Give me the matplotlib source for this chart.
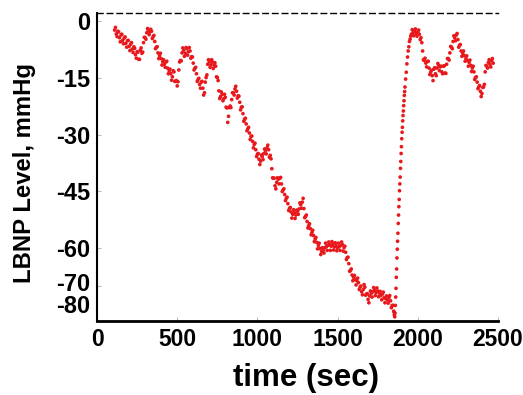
import matplotlib
matplotlib.use("Agg")
import matplotlib.pyplot as plt
import matplotlib.transforms as mtrans
from matplotlib.transforms import blended_transform_factory

plt.rcParams['font.family'] = ['Liberation Sans', 'DejaVu Sans']

# ---- data ----
# main samples
time_sec = [
    110, 120, 130, 140, 150, 160, 170, 180, 190, 200,
    210, 220, 230, 240, 250, 260, 270, 280, 290, 300,
    310, 320, 330, 340, 350, 360, 370, 380, 390, 400,
    410, 420, 430, 440, 450, 460, 470, 480, 490, 500,
    510, 520, 530, 540, 550, 560, 570, 580, 590, 600,
    610, 620, 630, 640, 650, 660, 670, 680, 690, 700,
    710, 720, 730, 740, 750, 760, 770, 780, 790, 800,
    810, 820, 830, 840, 850, 860, 870, 880, 890, 900,
    910, 920, 930, 940, 950, 960, 970, 980, 990, 1000,
    1010, 1020, 1030, 1040, 1050, 1060, 1070, 1080, 1090, 1100,
    1110, 1120, 1130, 1140, 1150, 1160, 1170, 1180, 1190, 1200,
    1210, 1220, 1230, 1240, 1250, 1260, 1270, 1280, 1290, 1300,
    1310, 1320, 1330, 1340, 1350, 1360, 1370, 1380, 1390, 1400,
    1410, 1420, 1430, 1440, 1450, 1460, 1470, 1480, 1490, 1500,
    1510, 1520, 1530, 1540, 1550, 1560, 1570, 1580, 1590, 1600,
    1610, 1620, 1630, 1640, 1650, 1660, 1670, 1680, 1690, 1700,
    1710, 1720, 1730, 1740, 1750, 1760, 1770, 1780, 1790, 1800,
    1810, 1820, 1830, 1840, 1850,
    1852, 1854, 1856, 1858, 1860, 1862, 1864, 1866, 1868, 1870,
    1872, 1874, 1876, 1878, 1880, 1882, 1884, 1886, 1888, 1890,
    1892, 1894, 1896, 1898, 1900, 1902, 1904, 1906, 1908, 1910,
    1912, 1914, 1916, 1918, 1920, 1924, 1928, 1932, 1936, 1940,
    1944, 1948, 1952, 1956, 1960,
    1970, 1980, 1990, 2000, 2010, 2020, 2030, 2040, 2050, 2060,
    2070, 2080, 2090, 2100, 2110, 2120, 2130, 2140, 2150, 2160,
    2170, 2180, 2190, 2200, 2210, 2220, 2230, 2240, 2250, 2260,
    2270, 2280, 2290, 2300, 2310, 2320, 2330, 2340, 2350, 2360,
    2370, 2380, 2390, 2400, 2410, 2420, 2430, 2440, 2450, 2460,
    2470,
]
lbnp_mmhg = [
    -2.5, -3.5, -2.8, -4.5, -3.8, -5.2, -4.6, -6.0, -5.3, -6.8,
    -6.2, -7.5, -6.9, -9.0, -8.2, -10.2, -7.8, -8.6, -5.8, -4.5,
    -3.2, -2.6, -3.0, -2.8, -4.2, -5.5, -7.0, -8.5, -9.2, -10.0,
    -10.8, -11.5, -10.9, -12.5, -13.2, -14.0, -14.8, -13.5, -16.0, -17.2,
    -13.0, -10.5, -8.5, -7.8, -8.6, -7.4, -8.2, -8.0, -9.5, -11.2,
    -12.6, -14.0, -15.5, -16.8, -16.2, -17.8, -19.0, -15.0, -11.5, -10.8,
    -11.6, -10.9, -11.8, -12.0, -15.0, -18.5, -20.0, -19.4, -20.6, -20.2,
    -23.0, -25.2, -22.5, -20.8, -19.0, -18.0, -18.6, -19.8, -21.5, -22.8,
    -24.5, -26.0, -27.2, -28.5, -29.6, -30.5, -31.8, -32.6, -34.0, -35.2,
    -36.5, -37.0, -35.8, -35.0, -34.2, -33.5, -34.0, -35.5, -39.0, -41.5,
    -43.5, -42.6, -41.8, -41.5, -43.0, -44.6, -45.8, -46.8, -48.2, -49.5,
    -50.4, -51.0, -50.6, -51.2, -50.3, -49.6, -48.5, -47.8, -49.5, -51.6,
    -52.9, -54.0, -54.8, -55.8, -56.6, -57.5, -58.4, -59.2, -60.0, -60.8,
    -60.5, -59.8, -59.5, -59.2, -59.0, -59.4, -58.9, -59.6, -59.3, -59.8,
    -59.5, -59.2, -59.0, -59.8, -61.0, -62.4, -64.0, -65.8, -67.0, -67.6,
    -68.2, -68.5, -69.0, -70.2, -71.4, -70.8, -70.2, -72.0, -73.4, -72.5,
    -71.8, -71.4, -71.0, -71.6, -71.2, -71.8, -72.4, -72.0, -73.0, -73.2,
    -73.6, -73.0, -73.8, -75.0, -76.5,
    -76.8, -77.5, -78.0, -77.0, -75.0, -72.8, -70.5, -67.6, -65.4, -62.5,
    -60.2, -58.1, -56.0, -53.4, -51.2, -49.0, -47.1, -44.8, -43.0, -41.2,
    -38.9, -37.1, -35.0, -33.2, -31.1, -29.4, -28.1, -26.4, -25.0, -23.8,
    -22.4, -21.1, -19.7, -18.7, -17.5, -15.4, -13.6, -11.4, -9.6, -8.0,
    -6.9, -5.5, -4.9, -4.1, -3.6,
    -3.2, -2.8, -3.4, -3.0, -3.6, -4.5, -8.0, -10.5, -11.2, -10.8,
    -12.5, -13.6, -14.5, -12.8, -14.0, -12.5, -11.8, -12.2, -13.5, -12.0,
    -13.8, -11.5, -10.0, -8.5, -7.0, -5.5, -4.5, -3.8, -5.0, -6.5,
    -8.0, -8.6, -9.2, -10.0, -10.5, -11.0, -11.8, -12.5, -13.5, -15.0,
    -16.2, -17.5, -18.6, -19.2, -17.5, -13.5, -12.0, -11.0, -11.5, -10.6,
    -11.2,
]

# in-between samples (beat-to-beat scatter around the trend)
time_mid_sec = list(range(115, 1850, 10)) + list(range(1965, 2470, 10))
lbnp_mid_mmhg = [
    -1.8, -4.2, -3.0, -5.6, -3.6, -6.1, -4.3, -7.0, -5.2, -7.9,
    -5.8, -8.4, -7.3, -9.9, -8.3, -10.2, -7.2, -8.3, -4.4, -4.9,
    -2.1, -3.7, -2.3, -4.7, -3.9, -7.4, -6.9, -10.0, -8.6, -11.7,
    -10.3, -12.3, -10.7, -14.0, -12.8, -15.7, -13.2, -16.0, -15.8, -16.1,
    -10.9, -10.6, -7.2, -9.4, -7.1, -9.1, -7.1, -9.9, -9.6, -13.0,
    -12.3, -16.0, -15.2, -17.8, -16.0, -19.6, -16.2, -14.3, -10.3, -12.3,
    -10.3, -12.6, -11.1, -14.8, -15.8, -20.5, -18.8, -21.1, -19.4, -22.8,
    -26.8, -22.9, -22.9, -19.0, -19.6, -17.3, -20.4, -19.9, -23.5, -22.7,
    -26.5, -25.7, -29.0, -28.1, -31.3, -30.4, -33.5, -32.3, -35.8, -35.0,
    -37.9, -35.4, -36.6, -33.8, -35.1, -32.8, -36.0, -36.4, -41.4, -41.5,
    -44.3, -41.4, -43.0, -41.3, -45.0, -44.3, -47.4, -46.5, -50.0, -49.2,
    -52.0, -49.8, -52.1, -49.9, -51.0, -48.0, -49.4, -46.8, -51.9, -51.2,
    -54.6, -53.5, -56.4, -55.2, -58.2, -57.1, -60.1, -58.6, -61.6, -59.8,
    -61.2, -58.6, -60.5, -58.3, -60.5, -58.2, -60.4, -58.5, -60.6, -58.6,
    -60.5, -58.3, -60.7, -59.4, -62.9, -62.3, -66.0, -65.4, -68.5, -67.1,
    -69.6, -67.8, -70.8, -69.9, -72.2, -69.5, -72.3, -71.9, -74.3, -71.2,
    -72.8, -70.3, -72.4, -70.4, -72.7, -71.3, -73.5, -71.5, -74.3, -72.5,
    -74.4, -72.4, -75.6, -75.0,
    -2.4, -4.0, -2.2, -4.1, -2.5, -5.0, -5.8, -10.3, -9.9, -12.2,
    -10.7, -14.2, -13.1, -15.8, -12.4, -14.5, -11.3, -13.2, -12.0, -14.0,
    -11.9, -13.9, -10.0, -10.4, -6.8, -7.4, -4.0, -5.3, -3.4, -7.0,
    -6.3, -9.4, -8.0, -10.7, -9.3, -12.0, -10.4, -13.4, -12.0, -15.5,
    -14.8, -17.9, -17.1, -20.0, -17.6, -16.8, -11.8, -12.5, -10.3, -12.2,
    -10.0,
]

x_ticks = [0, 500, 1000, 1500, 2000, 2500]
y_ticks = [0, -15, -30, -45, -60, -70]
y_tick_labels = ['0', '-15', '-30', '-45', '-60', '-70']
extra_y_label = '-80'

# ---- figure ----
fig = plt.figure(figsize=(5.23, 3.95), dpi=100)
ax = fig.add_axes([97/523, 74/395, 401/523, 308/395])

red = '#e8191c'
ax.scatter(time_sec, lbnp_mmhg, s=7, color=red, edgecolors='none', zorder=3)
ax.scatter(time_mid_sec, lbnp_mid_mmhg, s=7, color=red, edgecolors='none', zorder=3)

ax.set_xlim(0, 2500)
ax.set_ylim(-79.1, 2.0)

ax.set_xticks(x_ticks)
ax.set_xticklabels([str(v) for v in x_ticks], fontsize=16.5, fontweight='bold')
ax.set_yticks(y_ticks)
ax.set_yticklabels(y_tick_labels, fontsize=17, fontweight='bold')
ax.tick_params(axis='both', direction='in', length=3, width=0.8, color='#bbbbbb', pad=5)

# -70 label sits slightly above its tick, -80 label squeezed below it (as in reference)
for lab in ax.get_yticklabels():
    if lab.get_text() == '-70':
        lab.set_transform(lab.get_transform() + mtrans.ScaledTranslation(0, 4/100, fig.dpi_scale_trans))
trans = blended_transform_factory(ax.transAxes, ax.transData)
ax.text(-0.0175, -75.4, extra_y_label, transform=trans, ha='right', va='center',
        fontsize=17, fontweight='bold')

ax.spines['right'].set_visible(False)
ax.spines['top'].set_linestyle((0, (4, 3)))
ax.spines['top'].set_linewidth(1.0)
ax.spines['left'].set_linewidth(1.5)
ax.spines['bottom'].set_linewidth(2.0)

ax.set_xlabel('time (sec)', fontsize=22.5, fontweight='bold')
ax.xaxis.set_label_coords(0.52, -0.135)
ax.set_ylabel('LBNP Level, mmHg', fontsize=17.2, fontweight='bold')
ax.yaxis.set_label_coords(-0.152, 0.48)

fig.savefig('out.png', dpi=100)
